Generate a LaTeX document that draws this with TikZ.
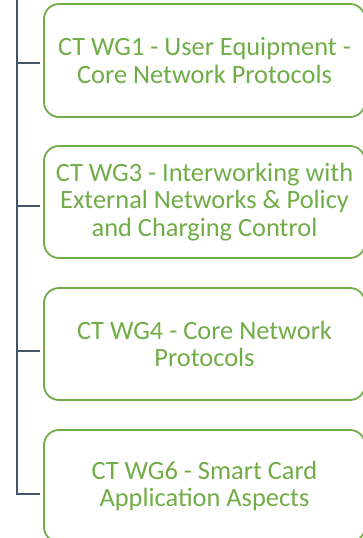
\documentclass[tikz,border=0pt]{standalone}
\usepackage{fontspec}
\setmainfont{Carlito}
\definecolor{wggreen}{HTML}{70AD47}
\definecolor{spine}{HTML}{44546A}
\begin{document}
\begin{tikzpicture}[x=1pt,y=1pt,
  wgbox/.style={draw=wggreen, line width=1.8pt, rounded corners=15pt, fill=white,
    minimum width=321pt, minimum height=112pt, inner sep=0pt,
    text=wggreen, align=center,
    font=\fontsize{26.4}{27.8}\selectfont},
  link/.style={draw=spine, line width=2pt}]
\useasboundingbox (0,0) rectangle (363,-538);
\node[wgbox, minimum height=113pt] (b1) at (204.5,-60.5) {CT WG1 - User Equipment -\\Core Network Protocols};
\node[wgbox] (b2) at (204.5,-202) {CT WG3 - Interworking with\\External Networks \& Policy\\and Charging Control};
\node[wgbox] (b3) at (204.5,-344) {CT WG4 - Core Network\\Protocols};
\node[wgbox] (b4) at (204.5,-486) {CT WG6 - Smart Card\\Application Aspects};
\coordinate (top) at (17,0);
\coordinate (s1) at (17,-62.7);
\coordinate (s2) at (17,-206);
\coordinate (s3) at (17,-350.7);
\coordinate (e1) at (39.5,-62.7);
\coordinate (e2) at (39.5,-206);
\coordinate (e3) at (39.5,-350.7);
\coordinate (e4) at (39.5,-494);
\draw[link] (top) |- (e4);
\draw[link] (s1) -- (e1);
\draw[link] (s2) -- (e2);
\draw[link] (s3) -- (e3);
\end{tikzpicture}
\end{document}
